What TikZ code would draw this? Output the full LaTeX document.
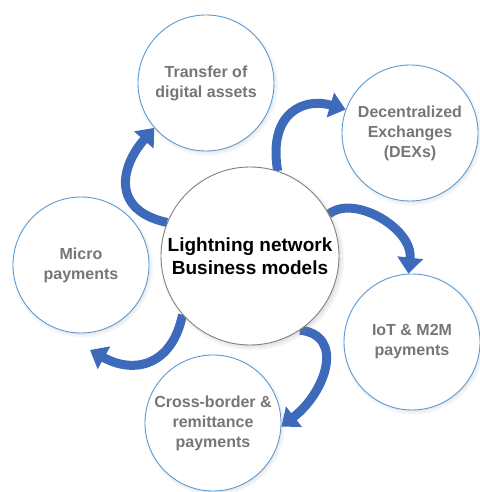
\documentclass[tikz,border=0pt]{standalone}
\usepackage{fontspec}
\setmainfont{Liberation Sans}
\usetikzlibrary{arrows.meta, shadows, backgrounds}

\definecolor{ringblue}{RGB}{91,155,213}
\definecolor{arrowblue}{RGB}{62,106,188}
\definecolor{labelgray}{RGB}{118,118,118}

\begin{document}
\begin{tikzpicture}[x=1pt, y=1pt,
    model/.style={circle, draw=ringblue, line width=0.9pt, fill=white, minimum size=136pt, inner sep=0pt, align=center,
        text=labelgray, font=\bfseries\fontsize{16}{20}\selectfont,
        circular drop shadow={shadow xshift=1pt, shadow yshift=-1.5pt, shadow scale=1.05, opacity=0.35}},
    hub/.style={circle, draw=gray, line width=0.9pt, fill=white, minimum size=178pt, inner sep=0pt, align=center,
        font=\bfseries\fontsize{19}{23}\selectfont,
        circular drop shadow={shadow xshift=2pt, shadow yshift=-2pt, shadow scale=1.04, opacity=0.5}},
    flow/.style={draw=arrowblue, line width=9pt, -{Triangle[width=25pt, length=16pt]}}]
    \useasboundingbox (0,0) rectangle (479,492);

    % Centre
    \node[hub] (hub) at (250,236) {Lightning network\\Business models};

    % Business models around it
    \node[model] (transfer) at (206,409) {Transfer of\\digital assets};
    \node[model] (dex) at (410,359) {Decentralized\\Exchanges\\(DEXs)};
    \node[model] (iot) at (412,150) {IoT \& M2M\\payments};
    \node[model] (remit) at (213,69) {Cross-border \&\\remittance\\payments};
    \node[model] (micro) at (81,227) {Micro\\payments};
    \coordinate (microtip) at (90,142);

    % Curved arrows, behind the circles
    \begin{scope}[on background layer]
        \draw[flow] (hub.158) .. controls +(-55,12) and +(-35,-40) .. (transfer.221);
        \draw[flow] (hub.72) .. controls +(-10,60) and +(-40,12) .. (dex.160);
        \draw[flow] (hub.28) .. controls +(25,20) and +(5,45) .. (iot.93);
        \draw[flow] (hub.-56) .. controls +(45,-5) and +(45,35) .. (remit.357);
        \draw[flow] (hub.221) .. controls +(-10,-50) and +(45,-25) .. (microtip);
    \end{scope}
\end{tikzpicture}
\end{document}
